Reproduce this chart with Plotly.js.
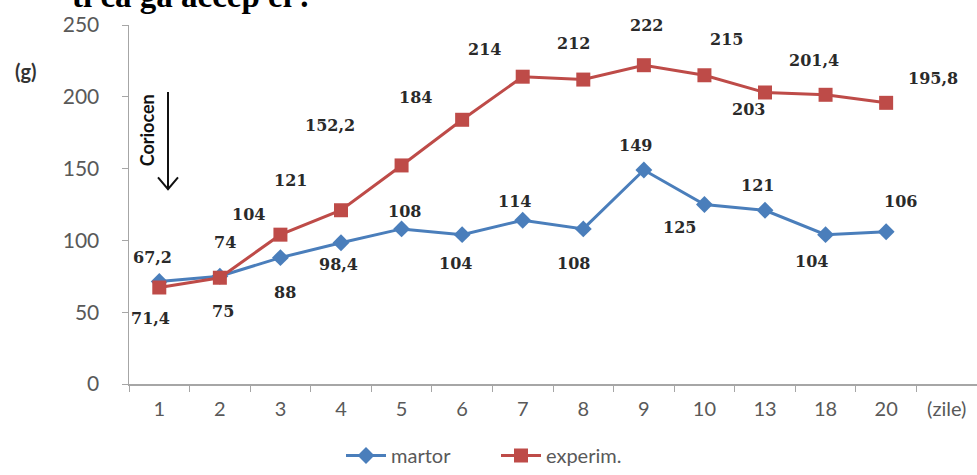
<!DOCTYPE html>
<html>
<head>
<meta charset="utf-8">
<script src="https://cdn.plot.ly/plotly-3.0.1.min.js"></script>
<style>html,body{margin:0;padding:0;background:#fff;}#chart{width:977px;height:475px;}</style>
</head>
<body>
<div id="chart"></div>
<script>
// ---- data ----
var days = ['1','2','3','4','5','6','7','8','9','10','13','18','20'];
var axisCategories = days.concat(['(zile)']);
var martor = [71.4, 75, 88, 98.4, 108, 104, 114, 108, 149, 125, 121, 104, 106];
var experim = [67.2, 74, 104, 121, 152.2, 184, 214, 212, 222, 215, 203, 201.4, 195.8];
var martorLabels = ['71,4','75','88','98,4','108','104','114','108','149','125','121','104','106'];
var experimLabels = ['67,2','74','104','121','152,2','184','214','212','222','215','203','201,4','195,8'];

// ---- label offsets (pixels) ----
var martorOff = [[-9,37],[3,35],[5,35],[-3,22],[3,-17],[-7,29],[-8,-19],[-10,35],[-8,-25],[-25,23],[-8,-25],[-14,27],[14,-30]];
var experimOff = [[-7,-30],[5,-35],[-32,-20],[-51,-30],[-72,-40],[-47,-22],[-38,-27],[-10,-36],[3,-40],[22,-36],[-17,17],[-12,-34],[47,-24]];

var L = 129, R = 0, T = 25, B = 85, W = 977, H = 475;
var pw = W - L - R, ph = H - T - B;
function px(x){ return (x - L) / pw; }
function py(y){ return (H - B - y) / ph; }

var blue = '#4a7ebb', red = '#be4b48';
var labelFont = {family: 'DejaVu Serif', size: 16, color: '#2a2a2a'};

var traces = [
  {x: days, y: martor, name: 'martor', type: 'scatter', mode: 'lines+markers',
   line: {color: blue, width: 3}, marker: {symbol: 'diamond', size: 13, color: blue}},
  {x: days, y: experim, name: 'experim.', type: 'scatter', mode: 'lines+markers',
   line: {color: red, width: 3}, marker: {symbol: 'square', size: 14, color: red}}
];

var annotations = [];
function addLabels(vals, labels, offs){
  for (var i = 0; i < vals.length; i++){
    annotations.push({x: i, y: vals[i], xref: 'x', yref: 'y', text: '<b>' + labels[i] + '</b>',
      showarrow: false, xanchor: 'center', yanchor: 'middle',
      xshift: offs[i][0], yshift: -offs[i][1], font: labelFont});
  }
}
addLabels(martor, martorLabels, martorOff);
addLabels(experim, experimLabels, experimOff);

annotations.push({x: px(26), y: py(72), xref: 'paper', yref: 'paper', text: '<b>(g)</b>',
  showarrow: false, xanchor: 'center', yanchor: 'middle', font: {family: 'Lato', size: 20, color: '#333'}});
annotations.push({x: px(147), y: py(132), xref: 'paper', yref: 'paper', text: '<b>Coriocen</b>',
  showarrow: false, xanchor: 'center', yanchor: 'middle', textangle: -90,
  font: {family: 'Lato', size: 18, color: '#111'}});
annotations.push({x: px(190), y: py(-4), xref: 'paper', yref: 'paper', text: '<b>ti ca ga accep ei .</b>',
  showarrow: false, xanchor: 'center', yanchor: 'middle',
  font: {family: 'Liberation Serif', size: 33, color: '#000'}});

var shapes = [
  {type: 'line', xref: 'paper', yref: 'paper', x0: px(168), y0: py(93), x1: px(168), y1: py(191),
   line: {color: '#111', width: 2}},
  {type: 'path', xref: 'paper', yref: 'paper',
   path: 'M' + px(158) + ',' + py(180) + ' L' + px(168) + ',' + py(192) + ' L' + px(178) + ',' + py(180),
   line: {color: '#111', width: 2}}
];

var layout = {
  width: W, height: H,
  margin: {l: L, r: R, t: T, b: B},
  paper_bgcolor: '#fff', plot_bgcolor: '#fff',
  showlegend: true,
  legend: {orientation: 'h', x: px(496), y: py(463), xanchor: 'center', yanchor: 'middle',
    font: {family: 'Lato', size: 20, color: '#595959'}, itemwidth: 40, tracegroupgap: 0,
    entrywidth: 100},
  xaxis: {type: 'category', categoryorder: 'array', categoryarray: axisCategories,
    tickmode: 'array', tickvals: axisCategories, ticktext: axisCategories,
    range: [-0.5, axisCategories.length - 0.5], tickson: 'boundaries',
    showline: true, linecolor: '#a6a6a6', linewidth: 1.5, ticks: 'outside', ticklen: 6, tickcolor: '#a6a6a6',
    showgrid: false, zeroline: false, fixedrange: true,
    tickfont: {family: 'Lato', size: 20, color: '#595959'}, ticklabelstandoff: 6},
  yaxis: {range: [0, 250], dtick: 50, tick0: 0, showline: true, linecolor: '#a6a6a6', linewidth: 1.5,
    ticks: 'outside', ticklen: 6, tickcolor: '#a6a6a6', showgrid: false, zeroline: false,
    tickfont: {family: 'Lato', size: 21, color: '#595959'}, ticklabelstandoff: 18},
  annotations: annotations,
  shapes: shapes
};

Plotly.newPlot('chart', traces, layout, {displayModeBar: false, staticPlot: true});
</script>
</body>
</html>
